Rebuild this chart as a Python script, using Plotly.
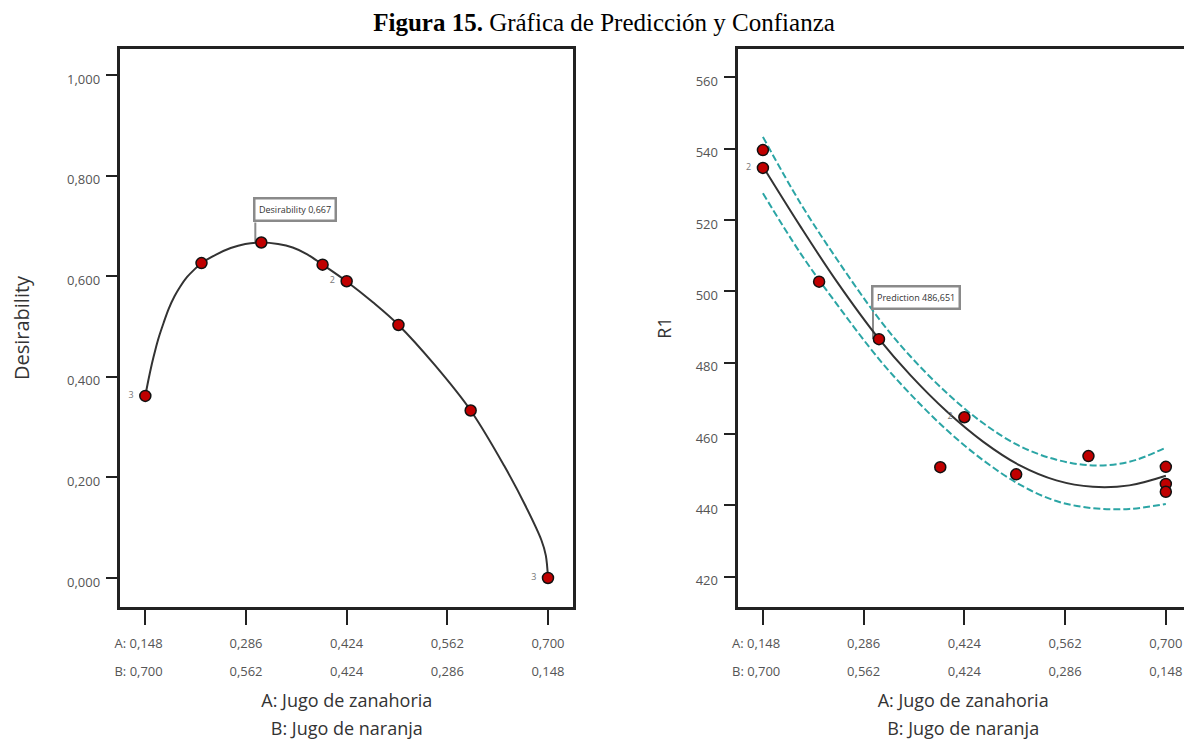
import plotly.graph_objects as go

# ---------------- data ----------------
# x-axis tick values (A: Jugo de zanahoria) and paired B values (B: Jugo de naranja)
tick_A = [0.148, 0.286, 0.424, 0.562, 0.700]
tick_B = [0.700, 0.562, 0.424, 0.286, 0.148]

# Left panel: desirability
design_A_left = [0.148, 0.225, 0.307, 0.391, 0.424, 0.495, 0.594, 0.700]
desir_points = [0.362, 0.626, 0.667, 0.623, 0.590, 0.503, 0.333, 0.000]
curve_A_left = [0.148, 0.152, 0.157, 0.1616, 0.167, 0.173, 0.180, 0.188, 0.1957, 0.205,
                0.215, 0.225, 0.245, 0.265, 0.285, 0.307, 0.33, 0.35, 0.37, 0.391,
                0.424, 0.46, 0.495, 0.545, 0.594, 0.64, 0.67, 0.6909, 0.697, 0.700]
curve_desir = [0.362, 0.392, 0.426, 0.453, 0.481, 0.507, 0.535, 0.560, 0.579, 0.598,
               0.613, 0.626, 0.643, 0.656, 0.664, 0.667, 0.664, 0.657, 0.6435, 0.623,
               0.5895, 0.548, 0.503, 0.423, 0.333, 0.223, 0.141, 0.0755, 0.045, 0.0]
count_A_left = [0.148, 0.424, 0.700]
count_val_left = [0.362, 0.590, 0.000]
count_txt_left = ["3", "2", "3"]
desir_ticks = [0.0, 0.2, 0.4, 0.6, 0.8, 1.0]

# Right panel: R1 with prediction and confidence bands
design_A_right = [0.148, 0.148, 0.225, 0.307, 0.391, 0.424, 0.495, 0.594, 0.700, 0.700, 0.700]
r1_points = [539.6, 534.6, 502.7, 486.6, 450.7, 464.7, 448.7, 453.8, 450.8, 446.0, 443.8]
curve_A_right = [0.148, 0.20, 0.25, 0.307, 0.35, 0.40, 0.45, 0.50, 0.55, 0.60, 0.65, 0.70]
r1_fit = [535.0, 518.0, 502.5, 486.65, 476.5, 466.3, 457.8, 451.2, 447.0, 445.2, 445.6, 448.3]
r1_upper = [543.3, 524.5, 508.8, 492.3, 481.8, 471.5, 463.0, 456.6, 452.8, 451.2, 452.2, 456.2]
r1_lower = [527.5, 510.5, 496.2, 481.0, 471.2, 461.1, 452.6, 445.8, 441.2, 439.2, 439.0, 440.4]
count_A_right = [0.148, 0.424]
count_val_right = [534.6, 464.7]
count_txt_right = ["2", "2"]
r1_ticks = [420, 440, 460, 480, 500, 520, 540, 560]

pred_A = 0.307
pred_desir = 0.667
pred_r1 = 486.651

# ---------------- layout helpers ----------------
# The page body has an 8px margin, so the figure is drawn 8px smaller and
# reference pixel positions are converted with that offset.
OFF = 8
W, H = 1192 - OFF, 740 - OFF


def fx(p):  # reference x pixel -> paper fraction
    return (p - OFF) / W


def fy(p):  # reference y pixel -> paper fraction
    return 1 - (p - OFF) / H


def comma(v, nd=3):
    return f"{v:.{nd}f}".replace(".", ",")


NB = "\u00a0"
ticktext_A = [("A: " if i == 0 else "") + comma(v) + (NB * 4 if i == 0 else "") for i, v in enumerate(tick_A)]
ticktext_B = [("B: " if i == 0 else "") + comma(v) + (NB * 4 if i == 0 else "") for i, v in enumerate(tick_B)]

FONT = "Open Sans"
TICK_COLOR = "#555555"
FRAME = "#222222"
RED = "#c00000"
TEAL = "#2ba5a5"

fig = go.Figure()

# Left panel
fig.add_trace(go.Scatter(x=curve_A_left, y=curve_desir, mode="lines",
                         line=dict(color="#333333", width=2, shape="spline", smoothing=1.0),
                         xaxis="x", yaxis="y", hoverinfo="skip", showlegend=False))
fig.add_trace(go.Scatter(x=design_A_left, y=desir_points, mode="markers",
                         marker=dict(color=RED, size=11, line=dict(color="#111111", width=1.5)),
                         xaxis="x", yaxis="y", showlegend=False))
fig.add_trace(go.Scatter(x=count_A_left, y=count_val_left, mode="markers+text",
                         text=count_txt_left, textposition="middle left",
                         textfont=dict(family=FONT, size=9, color="#777777"),
                         marker=dict(size=17, color="rgba(0,0,0,0)"),
                         xaxis="x3", yaxis="y", hoverinfo="skip", showlegend=False))

# Right panel
fig.add_trace(go.Scatter(x=curve_A_right, y=r1_upper, mode="lines",
                         line=dict(color=TEAL, width=2, dash="7px,3px", shape="spline"),
                         xaxis="x2", yaxis="y2", hoverinfo="skip", showlegend=False))
fig.add_trace(go.Scatter(x=curve_A_right, y=r1_lower, mode="lines",
                         line=dict(color=TEAL, width=2, dash="7px,3px", shape="spline"),
                         xaxis="x2", yaxis="y2", hoverinfo="skip", showlegend=False))
fig.add_trace(go.Scatter(x=curve_A_right, y=r1_fit, mode="lines",
                         line=dict(color="#333333", width=2, shape="spline"),
                         xaxis="x2", yaxis="y2", hoverinfo="skip", showlegend=False))
fig.add_trace(go.Scatter(x=design_A_right, y=r1_points, mode="markers",
                         marker=dict(color=RED, size=11, line=dict(color="#111111", width=1.5)),
                         xaxis="x2", yaxis="y2", showlegend=False))
fig.add_trace(go.Scatter(x=count_A_right, y=count_val_right, mode="markers+text",
                         text=count_txt_right, textposition="middle left",
                         textfont=dict(family=FONT, size=9, color="#777777"),
                         marker=dict(size=17, color="rgba(0,0,0,0)"),
                         xaxis="x4", yaxis="y2", hoverinfo="skip", showlegend=False))

x_left_dom = [fx(115), fx(570)]
x_right_dom = [fx(736), fx(1188)]
y_dom = [fy(607), fy(49)]
x_range_left = [0.1139, 0.7345]
x_range_right = [0.1143, 0.7304]
b_pos = fy(662)

xa_common = dict(tickvals=tick_A, ticks="outside", ticklen=15, tickwidth=2, tickcolor=FRAME,
                 showline=True, mirror=True, linewidth=2.5, linecolor=FRAME,
                 showgrid=False, zeroline=False,
                 tickfont=dict(family=FONT, size=13, color=TICK_COLOR),
                 ticklabelstandoff=8)
xb_common = dict(tickvals=tick_A, ticks="", showline=False, showgrid=False, zeroline=False,
                 anchor="free", position=b_pos,
                 tickfont=dict(family=FONT, size=13, color=TICK_COLOR))
ya_common = dict(ticks="outside", ticklen=12, tickwidth=2, tickcolor=FRAME,
                 showline=True, mirror=True, linewidth=2.5, linecolor=FRAME,
                 showgrid=False, zeroline=False, ticklabelshift=4, ticklabelstandoff=3,
                 tickfont=dict(family=FONT, size=13, color=TICK_COLOR))
title_font = dict(family=FONT, size=18, color="#333333")
ytitle_font = dict(family=FONT, size=20, color="#333333")

fig.update_layout(
    width=W, height=H,
    margin=dict(l=0, r=0, t=0, b=0),
    paper_bgcolor="white", plot_bgcolor="white",
    title=dict(text="<b>Figura 15.</b> Gráfica de Predicción y Confianza",
               font=dict(family="Liberation Serif", size=25, color="black"),
               x=fx(604), xanchor="center", y=fy(22), yanchor="middle", yref="container"),
    xaxis=dict(domain=x_left_dom, range=x_range_left, anchor="y", ticktext=ticktext_A,
               title=dict(text="A: Jugo de zanahoria", font=title_font, standoff=44), **xa_common),
    xaxis3=dict(overlaying="x", range=x_range_left, ticktext=ticktext_B,
                title=dict(text="B: Jugo de naranja", font=title_font, standoff=44), **xb_common),
    yaxis=dict(domain=y_dom, range=[-0.0577, 1.0517], anchor="x",
               tickvals=desir_ticks, ticktext=[comma(v) for v in desir_ticks],
               title=dict(text="Desirability", font=ytitle_font, standoff=38), **ya_common),
    xaxis2=dict(domain=x_right_dom, range=x_range_right, anchor="y2", ticktext=ticktext_A,
                title=dict(text="A: Jugo de zanahoria", font=title_font, standoff=44), **xa_common),
    xaxis4=dict(overlaying="x2", range=x_range_right, ticktext=ticktext_B,
                title=dict(text="B: Jugo de naranja", font=title_font, standoff=44), **xb_common),
    yaxis2=dict(domain=y_dom, range=[411.5, 567.94], anchor="x2",
                tickvals=r1_ticks, ticktext=[str(v) for v in r1_ticks],
                title=dict(text="R1", font=title_font, standoff=20), **ya_common),
)

# Prediction call-out boxes with leader lines
callouts = [("x", "y", pred_A, pred_desir, f"Desirability {comma(pred_desir)}", 20),
            ("x2", "y2", pred_A, pred_r1, f"Prediction {comma(pred_r1)}", 29)]
for xr, yr, xv, yv, txt, up in callouts:
    fig.add_shape(type="line", xref=xr, yref=yr, xsizemode="pixel", xanchor=xv,
                  x0=-6, x1=-6, ysizemode="pixel", yanchor=yv, y0=0, y1=up,
                  line=dict(color="#8a8a8a", width=2), layer="below")
    fig.add_annotation(x=xv, y=yv, xref=xr, yref=yr, text=txt, showarrow=False,
                       xanchor="left", yanchor="bottom", xshift=-8, yshift=up,
                       font=dict(family=FONT, size=9, color="#333333"),
                       bgcolor="white", bordercolor="#8a8a8a", borderwidth=2.5, borderpad=3.5)

fig.write_html("out.html")
